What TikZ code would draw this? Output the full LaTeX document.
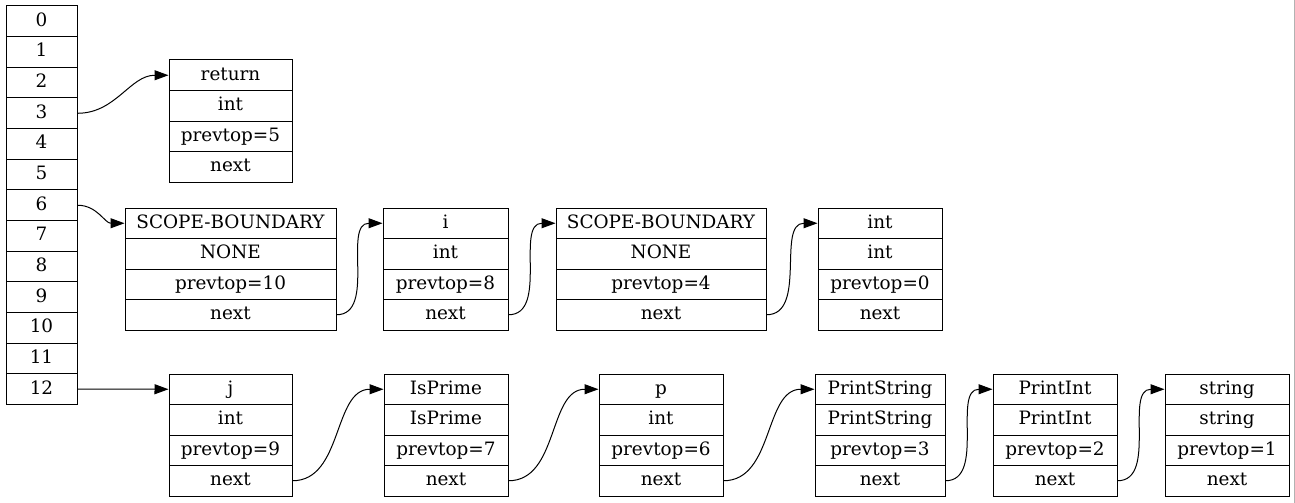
\documentclass[tikz,border=0pt]{standalone}
\usepackage{fontspec}
\setmainfont{DejaVu Serif}
\usetikzlibrary{arrows.meta}
\tikzset{
  cell/.style={draw, line width=0.75pt, inner sep=0pt,
    font=\fontsize{13.8}{16}\selectfont, text height=10pt, text depth=2.6pt},
  edge/.style={line width=0.75pt, -{Triangle[length=10.5pt,width=7.5pt]}},
}
\newcommand\record[6]{%
  \foreach \t [count=\i from 0] in {#6} {
    \node[cell, minimum width=#4*0.75pt, minimum height=#5*0.75pt] (#1-\i)
      at ({#2+#4/2},{#3+#5/2+#5*\i}) {\t};
  }%
}
\begin{document}
\begin{tikzpicture}[x=0.75pt,y=-0.75pt]
\useasboundingbox (0,0) rectangle (1295,503);
\draw[gray!60, line width=0.75pt] (1294,0) -- (1294,503);
% array
\record{arr}{6}{6}{71}{30.65}{0,1,2,3,4,5,6,7,8,9,10,11,12}
% row 1
\record{ret}{169}{60}{123}{30.5}{return,int,prevtop=5,next}
% row 2
\record{sa}{125}{208}{211}{30.5}{SCOPE-BOUNDARY,NONE,prevtop=10,next}
\record{vi}{383}{208}{125}{30.5}{i,int,prevtop=8,next}
\record{sb}{556}{208}{210}{30.5}{SCOPE-BOUNDARY,NONE,prevtop=4,next}
\record{ti}{818}{208}{124}{30.5}{int,int,prevtop=0,next}
% row 3
\record{vj}{169}{374}{123}{30.5}{j,int,prevtop=9,next}
\record{ip}{384}{374}{124}{30.5}{IsPrime,IsPrime,prevtop=7,next}
\record{vp}{599}{374}{124}{30.5}{p,int,prevtop=6,next}
\record{ps}{815}{374}{130}{30.5}{PrintString,PrintString,prevtop=3,next}
\record{pi}{993}{374}{124}{30.5}{PrintInt,PrintInt,prevtop=2,next}
\record{st}{1165}{374}{124}{30.5}{string,string,prevtop=1,next}
% edges
\draw[edge] (arr-3.east) to[out=0,in=180] (ret-0.west);
\draw[edge] (arr-6.east) to[out=0,in=180] (sa-0.west);
\draw[edge] (arr-12.east) -- (vj-0.west);
\draw[edge] (sa-3.east) to[out=0,in=180] (vi-0.west);
\draw[edge] (vi-3.east) to[out=0,in=180] (sb-0.west);
\draw[edge] (sb-3.east) to[out=0,in=180] (ti-0.west);
\draw[edge] (vj-3.east) to[out=0,in=180] (ip-0.west);
\draw[edge] (ip-3.east) to[out=0,in=180] (vp-0.west);
\draw[edge] (vp-3.east) to[out=0,in=180] (ps-0.west);
\draw[edge] (ps-3.east) to[out=0,in=180] (pi-0.west);
\draw[edge] (pi-3.east) to[out=0,in=180] (st-0.west);
\end{tikzpicture}
\end{document}
